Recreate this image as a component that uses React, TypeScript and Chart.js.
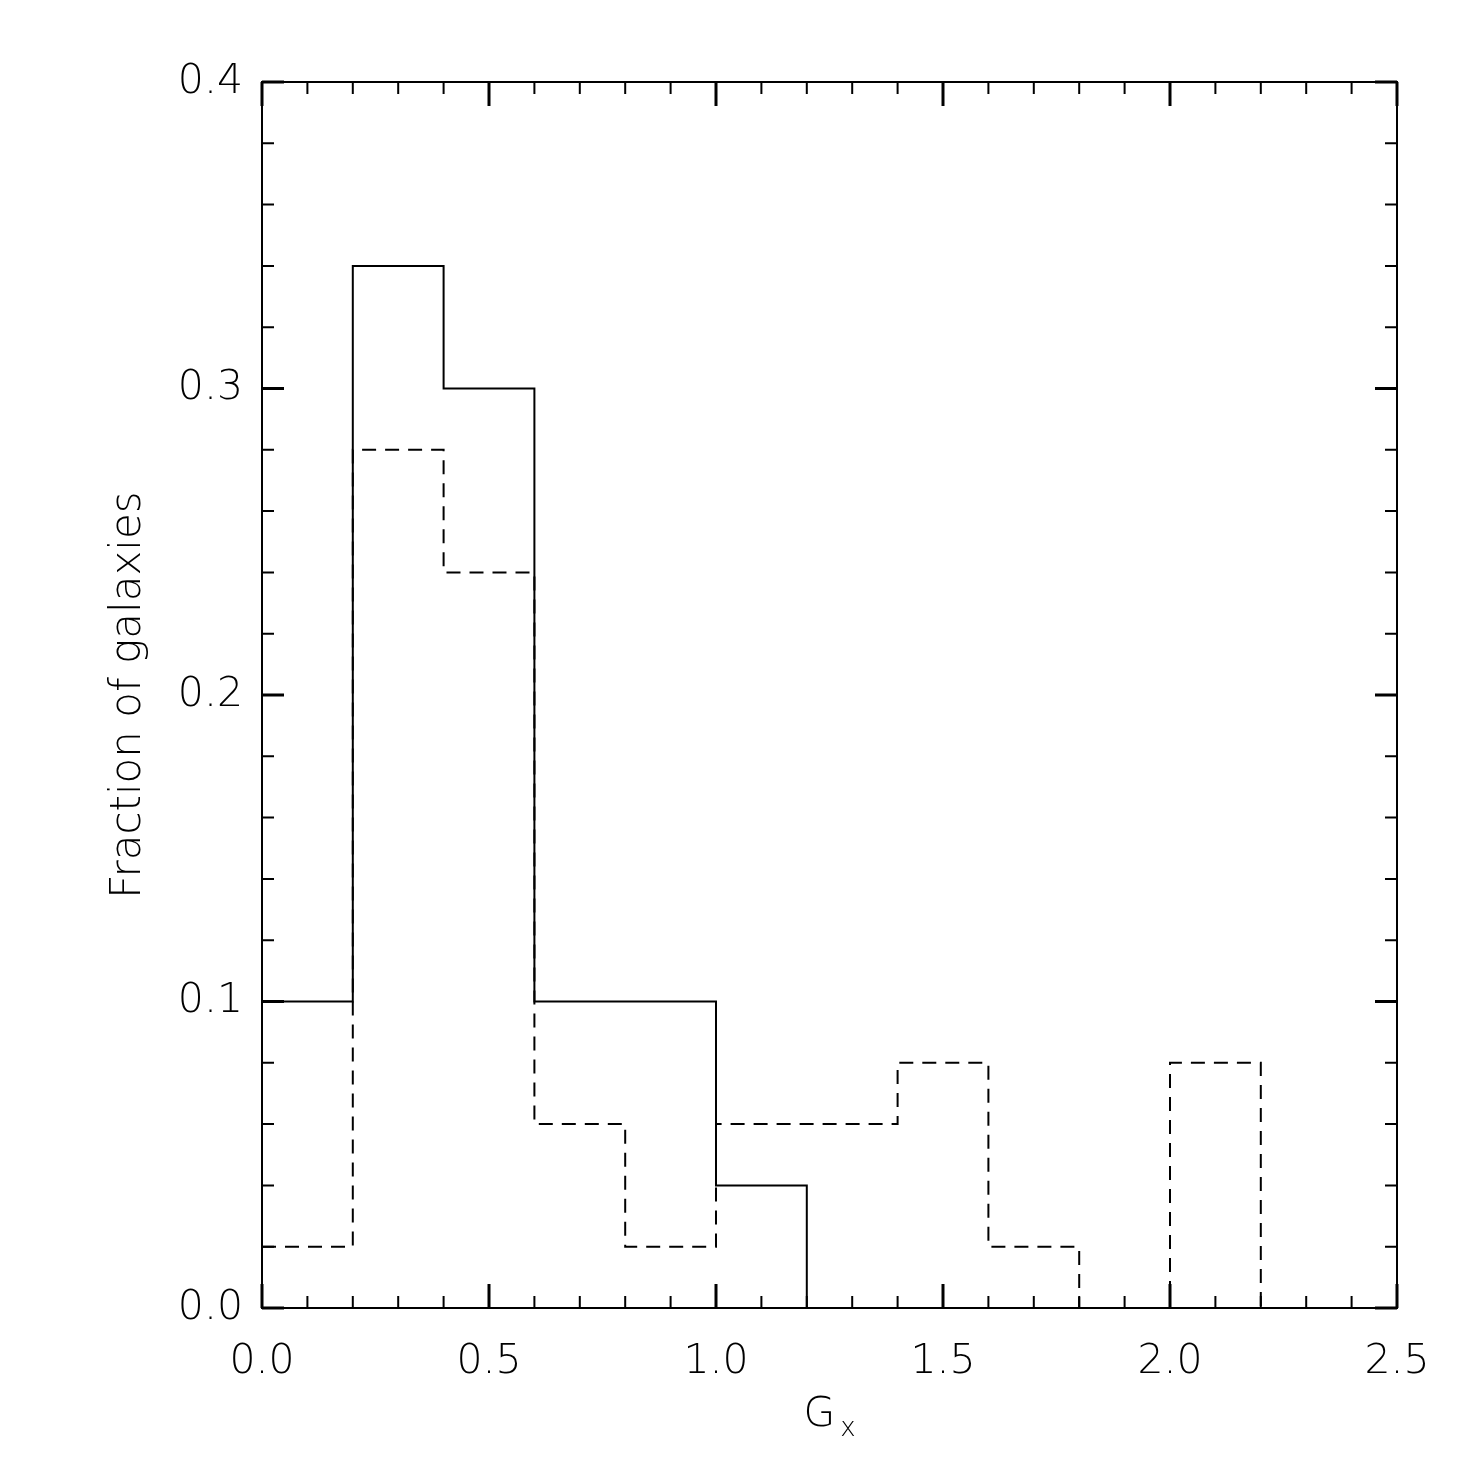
import React, { useEffect, useRef } from 'react';
import { Chart, registerables } from 'chart.js';

Chart.register(...registerables);

// Histogram bins (left edges, width 0.2) and the fraction in each bin
const binStarts = [0, 0.2, 0.4, 0.6, 0.8, 1.0, 1.2, 1.4, 1.6, 1.8, 2.0, 2.2];
const solidFractions = [0.1, 0.34, 0.3, 0.1, 0.1, 0.04, 0, 0, 0, 0, 0, 0];
const dashedFractions = [0.02, 0.28, 0.24, 0.06, 0.02, 0.06, 0.06, 0.08, 0.02, 0, 0.08, 0];

// Axis ticks
const xMajorTicks = [0, 0.5, 1.0, 1.5, 2.0, 2.5];
const yMajorTicks = [0, 0.1, 0.2, 0.3, 0.4];
const xMinorStep = 0.1;
const yMinorStep = 0.02;

const xTitle = 'G';
const xTitleSub = 'x';

const FONT = 'DejaVu Sans';

// IDL-style frame with inward ticks on all four sides, plus the G_x axis title
const frameTicks = {
  id: 'frameTicks',
  afterDatasetsDraw(chart: any) {
    const { ctx, chartArea, scales } = chart;
    const { left, right, top, bottom } = chartArea;
    const x = scales.x;
    const y = scales.y;
    ctx.save();
    ctx.strokeStyle = '#000';
    ctx.lineCap = 'butt';

    const isMajor = (v: number, majors: number[]) => majors.some((m) => Math.abs(m - v) < 1e-6);

    // x ticks (bottom + top)
    for (let v = x.min; v <= x.max + 1e-6; v += xMinorStep) {
      const major = isMajor(v, xMajorTicks);
      const len = major ? 24 : 12;
      ctx.lineWidth = major ? 3 : 2;
      const px = x.getPixelForValue(v);
      ctx.beginPath();
      ctx.moveTo(px, bottom);
      ctx.lineTo(px, bottom - len);
      ctx.moveTo(px, top);
      ctx.lineTo(px, top + len);
      ctx.stroke();
    }
    // y ticks (left + right)
    for (let v = y.min; v <= y.max + 1e-6; v += yMinorStep) {
      const major = isMajor(v, yMajorTicks);
      const len = major ? 22 : 12;
      ctx.lineWidth = major ? 3 : 2;
      const py = y.getPixelForValue(v);
      ctx.beginPath();
      ctx.moveTo(left, py);
      ctx.lineTo(left + len, py);
      ctx.moveTo(right, py);
      ctx.lineTo(right - len, py);
      ctx.stroke();
    }

    ctx.lineWidth = 2;
    ctx.strokeRect(left, top, right - left, bottom - top);

    // x title with subscript
    ctx.fillStyle = '#000';
    ctx.textBaseline = 'alphabetic';
    ctx.textAlign = 'left';
    ctx.font = `200 41px ${FONT}`;
    const wG = ctx.measureText(xTitle).width;
    ctx.font = `200 26px ${FONT}`;
    const wx = ctx.measureText(xTitleSub).width;
    const gap = 5;
    const startX = (left + right) / 2 - (wG + gap + wx) / 2;
    ctx.font = `200 41px ${FONT}`;
    ctx.fillText(xTitle, startX, bottom + 118);
    ctx.font = `200 26px ${FONT}`;
    ctx.fillText(xTitleSub, startX + wG + gap, bottom + 128);

    ctx.restore();
  },
};

const GxHistogram: React.FC = () => {
  const canvasRef = useRef<HTMLCanvasElement>(null);
  const chartRef = useRef<Chart | null>(null);

  useEffect(() => {
    if (!canvasRef.current) return;
    if (chartRef.current) chartRef.current.destroy();

    const solidPoints = binStarts.map((b, i) => ({ x: b, y: solidFractions[i] }));
    const dashedPoints = binStarts.map((b, i) => ({ x: b, y: dashedFractions[i] }));

    chartRef.current = new Chart(canvasRef.current, {
      type: 'line',
      data: {
        datasets: [
          {
            label: 'solid',
            data: solidPoints,
            stepped: 'before',
            borderColor: '#000',
            borderWidth: 2,
            pointRadius: 0,
            fill: false,
            clip: false as any,
          },
          {
            label: 'dashed',
            data: dashedPoints,
            stepped: 'before',
            borderColor: '#000',
            borderWidth: 2,
            borderDash: [14, 9],
            pointRadius: 0,
            fill: false,
            clip: false as any,
          },
        ],
      },
      options: {
        responsive: false,
        animation: false,
        devicePixelRatio: 1,
        layout: { padding: { top: 82, right: 78, left: 0, bottom: 0 } },
        plugins: {
          legend: { display: false },
          tooltip: { enabled: false },
        },
        scales: {
          x: {
            type: 'linear',
            min: 0,
            max: 2.5,
            grid: { display: false, drawTicks: false },
            border: { display: false },
            ticks: {
              stepSize: 0.5,
              autoSkip: false,
              maxRotation: 0,
              padding: 30,
              color: '#000',
              font: { family: FONT, size: 41, weight: '200' as any },
              callback: (v: any) => Number(v).toFixed(1),
            },
            title: { display: false },
            afterFit: (scale: any) => {
              scale.height = 167;
            },
          },
          y: {
            type: 'linear',
            min: 0,
            max: 0.4,
            grid: { display: false, drawTicks: false },
            border: { display: false },
            ticks: {
              stepSize: 0.1,
              padding: 19,
              color: '#000',
              font: { family: FONT, size: 41, weight: '200' as any },
              callback: (v: any) => Number(v).toFixed(1),
            },
            title: {
              display: true,
              text: 'Fraction of galaxies',
              color: '#000',
              font: { family: FONT, size: 42, weight: '200' as any },
              padding: { top: 104, bottom: 0 },
            },
            afterFit: (scale: any) => {
              scale.width = 262;
            },
          },
        },
      },
      plugins: [frameTicks],
    });

    return () => {
      if (chartRef.current) {
        chartRef.current.destroy();
        chartRef.current = null;
      }
    };
  }, []);

  return (
    <div style={{ position: 'fixed', left: 0, top: 0, width: 1475, height: 1475, background: '#fff' }}>
      <canvas ref={canvasRef} width={1475} height={1475} style={{ width: 1475, height: 1475 }} />
    </div>
  );
};

export default function App() {
  return <GxHistogram />;
}
